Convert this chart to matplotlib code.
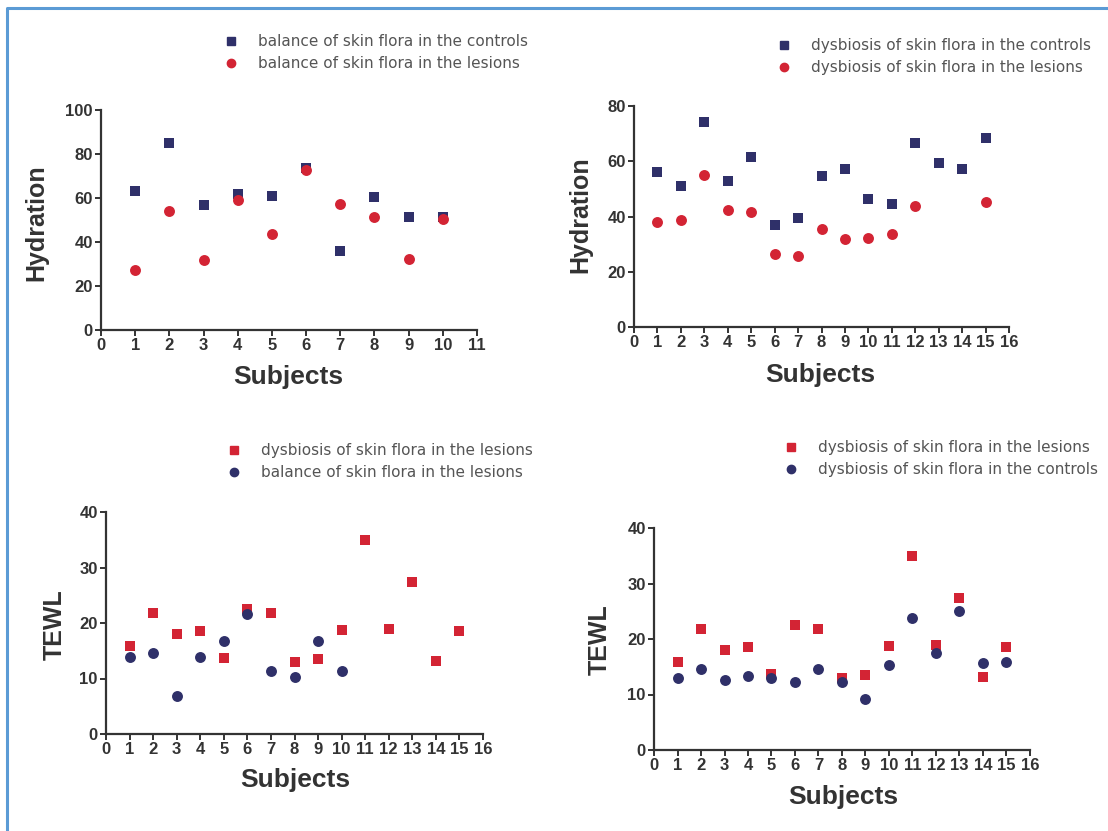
import matplotlib.pyplot as plt
from matplotlib.lines import Line2D

# hydration, balance of skin flora (10 subjects)
bal_subj = list(range(1, 11))
bal_hyd_controls = [63.3, 84.9, 56.9, 61.8, 60.9, 73.5, 35.9, 60.6, 51.3, 51.3]
bal_hyd_lesions = [27.1, 54.3, 31.7, 59.1, 43.7, 72.9, 57.3, 51.3, 32.4, 50.5]

# hydration, dysbiosis of skin flora (15 subjects, lesions missing for 13 and 14)
dys_subj = list(range(1, 16))
dys_hyd_controls = [56.2, 51.1, 74.1, 52.9, 61.4, 36.9, 39.5, 54.7, 57.2, 46.5,
                    44.7, 66.5, 59.2, 57.2, 68.3]
dys_hyd_les_subj = [1, 2, 3, 4, 5, 6, 7, 8, 9, 10, 11, 12, 15]
dys_hyd_lesions = [38.1, 38.9, 55.0, 42.3, 41.7, 26.3, 25.6, 35.4, 32.0, 32.3,
                   33.5, 43.7, 45.1]

# TEWL
dys_tewl_lesions = [15.9, 21.8, 18.1, 18.5, 13.7, 22.5, 21.8, 12.9, 13.5, 18.8,
                    34.9, 18.9, 27.4, 13.2, 18.6]
bal_tewl_lesions = [13.8, 14.6, 6.9, 13.8, 16.8, 21.7, 11.3, 10.3, 16.7, 11.4]
dys_tewl_controls = [12.9, 14.6, 12.6, 13.3, 12.9, 12.3, 14.6, 12.3, 9.1, 15.3,
                     23.8, 17.4, 25.1, 15.6, 15.8]

NAVY = "#2f3069"
RED = "#d32434"
INK = "#333333"
W, H = 1108, 831

plt.rcParams["font.family"] = ["Liberation Sans", "DejaVu Sans"]

fig = plt.figure(figsize=(W / 100, H / 100), dpi=100)
fig.patch.set_facecolor("white")
# frame along the left and top edges
fig.add_artist(Line2D([7 / W, 7 / W, 1.0], [0.0, 1 - 8 / H, 1 - 8 / H],
                      transform=fig.transFigure, color="#5b9bd5", linewidth=2.2))


def make_axes(left, right, top, bottom):
    return fig.add_axes([left / W, 1 - bottom / H, (right - left) / W, (bottom - top) / H])


def style(ax, xmax, ymax, ystep, ylabel, ylab_xy, xlab_xy):
    ax.set_xlim(0, xmax)
    ax.set_ylim(0, ymax)
    ax.set_xticks(range(0, xmax + 1))
    ax.set_yticks(range(0, ymax + 1, ystep))
    for s in ("top", "right"):
        ax.spines[s].set_visible(False)
    for s in ("left", "bottom"):
        ax.spines[s].set_linewidth(1.6)
        ax.spines[s].set_color(INK)
    ax.tick_params(direction="out", length=4, width=1.4, color=INK,
                   labelsize=12, labelcolor=INK, pad=2)
    for lab in ax.get_xticklabels() + ax.get_yticklabels():
        lab.set_fontweight("bold")
    fig.text(ylab_xy[0] / W, 1 - ylab_xy[1] / H, ylabel, rotation=90,
             ha="center", va="center", fontsize=18, fontweight="bold", color=INK)
    fig.text(xlab_xy[0] / W, 1 - xlab_xy[1] / H, "Subjects",
             ha="center", va="center", fontsize=19, fontweight="bold", color=INK)
    ax.patch.set_alpha(0)


def add_legend(ax, entries, x, y):
    handles = [Line2D([], [], linestyle="none", marker=m, color=c, markersize=6)
               for m, c, _ in entries]
    labels = [t for _, _, t in entries]
    ax.legend(handles, labels, loc="upper left", bbox_to_anchor=(x / W, 1 - y / H),
              bbox_transform=fig.transFigure, frameon=False,
              prop={"family": "DejaVu Sans", "size": 11}, labelcolor="#555555",
              handlelength=1.0, handletextpad=1.3, labelspacing=0.45,
              borderpad=0, borderaxespad=0)


sq = dict(marker="s", s=62, linewidths=0, zorder=3)
ci = dict(marker="o", s=62, linewidths=0, zorder=3)

# top left: balance, hydration
ax1 = make_axes(101, 477, 110, 330)
ax1.scatter(bal_subj, bal_hyd_controls, color=NAVY, **sq)
ax1.scatter(bal_subj, bal_hyd_lesions, color=RED, **ci)
style(ax1, 11, 100, 20, "Hydration", (36, 223), (288, 377))
add_legend(ax1, [("s", NAVY, "balance of skin flora in the controls"),
                 ("o", RED, "balance of skin flora in the lesions")], 223, 34)

# top right: dysbiosis, hydration
ax2 = make_axes(634, 1009, 106, 327)
ax2.scatter(dys_subj, dys_hyd_controls, color=NAVY, **sq)
ax2.scatter(dys_hyd_les_subj, dys_hyd_lesions, color=RED, **ci)
style(ax2, 16, 80, 20, "Hydration", (580, 215), (820, 375))
add_legend(ax2, [("s", NAVY, "dysbiosis of skin flora in the controls"),
                 ("o", RED, "dysbiosis of skin flora in the lesions")], 776, 38)

# bottom left: TEWL, dysbiosis lesions vs balance lesions
ax3 = make_axes(106, 483, 512, 734)
ax3.scatter(dys_subj, dys_tewl_lesions, color=RED, **sq)
ax3.scatter(bal_subj, bal_tewl_lesions, color=NAVY, **ci)
style(ax3, 16, 40, 10, "TEWL", (55, 625), (295, 780))
add_legend(ax3, [("s", RED, "dysbiosis of skin flora in the lesions"),
                 ("o", NAVY, "balance of skin flora in the lesions")], 226, 443)

# bottom right: TEWL, dysbiosis lesions vs controls
ax4 = make_axes(654, 1030, 528, 750)
ax4.scatter(dys_subj, dys_tewl_lesions, color=RED, **sq)
ax4.scatter(dys_subj, dys_tewl_controls, color=NAVY, **ci)
style(ax4, 16, 40, 10, "TEWL", (600, 640), (843, 797))
add_legend(ax4, [("s", RED, "dysbiosis of skin flora in the lesions"),
                 ("o", NAVY, "dysbiosis of skin flora in the controls")], 783, 440)

fig.savefig("out.png", dpi=100, facecolor="white")
